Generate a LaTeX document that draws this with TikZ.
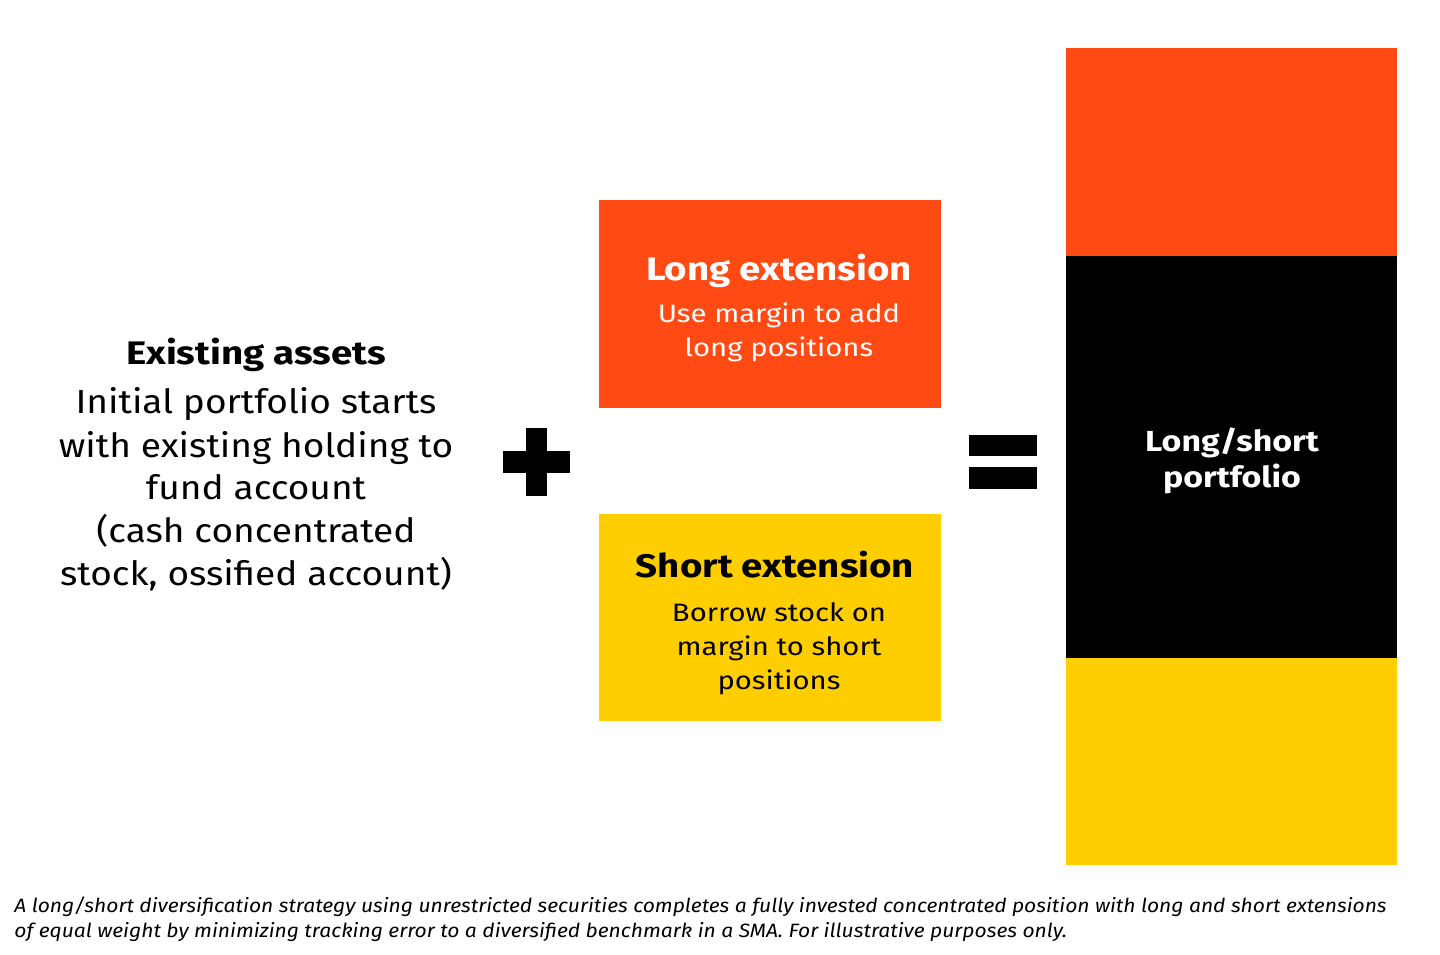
\documentclass[tikz,border=0pt]{standalone}
\usepackage{fontspec}
\setmainfont{Fira Sans}
\newfontfamily\hdfont{Fira Sans}[FakeStretch=1.18]
\newfontfamily\pffont{Fira Sans}[FakeStretch=1.17]
\newfontfamily\leftfont{Fira Sans}[FakeStretch=1.11]
\newfontfamily\boxfont{Fira Sans}[FakeStretch=1.16]
\newfontfamily\capfont{Fira Sans}[FakeStretch=1.09]
\definecolor{brorange}{HTML}{FF4A14}
\definecolor{bryellow}{HTML}{FFCE00}
\begin{document}
\begin{tikzpicture}[x=0.5pt,y=-0.5pt,
  hd/.style={font=\hdfont\fontsize{16.3}{18}\selectfont\bfseries, inner sep=0pt, anchor=base},
  pf/.style={font=\pffont\fontsize{14.5}{16}\selectfont\bfseries, inner sep=0pt, anchor=base, text=white},
  bodyL/.style={font=\leftfont\fontsize{16.7}{21.5}\selectfont, inner sep=0pt, anchor=base},
  bodyB/.style={font=\boxfont\fontsize{12.6}{17}\selectfont, inner sep=0pt, anchor=base},
  captxt/.style={font=\capfont\fontsize{9.65}{12}\selectfont\itshape, inner sep=0pt, anchor=base west}]
\useasboundingbox (0,0) rectangle (1440,954);
\fill[white] (0,0) rectangle (1440,954);
% boxes
\fill[brorange] (599,200) rectangle (941,408);
\fill[bryellow] (599,514) rectangle (941,721);
\fill[brorange] (1066,48) rectangle (1397,256);
\fill[black] (1066,256) rectangle (1397,658);
\fill[bryellow] (1066,658) rectangle (1397,865);
% plus
\fill[black] (525.7,428) rectangle (547.3,496);
\fill[black] (502.7,451.3) rectangle (570.3,472.7);
% equals
\fill[black] (969.3,435) rectangle (1037.3,456);
\fill[black] (969.3,467.3) rectangle (1037.3,489.3);
% left text
\node[hd] (eh) at (256,364) {Existing assets};
\node[bodyL] (e1) at (256,413) {Initial portfolio starts};
\node[bodyL] (e2) at (256,457) {with existing holding to};
\node[bodyL] (e3) at (256,499) {fund account};
\node[bodyL] (e4) at (256,542) {(cash concentrated};
\node[bodyL] (e5) at (256,585) {stock, ossified account)};
% long extension
\node[hd, text=white] (lh) at (779,280) {Long extension};
\node[bodyB, text=white] (l1) at (779,322) {Use margin to add};
\node[bodyB, text=white] (l2) at (779,356) {long positions};
% short extension
\node[hd] (sh) at (775,577) {Short extension};
\node[bodyB] (s1) at (779,621) {Borrow stock on};
\node[bodyB] (s2) at (779,655) {margin to short};
\node[bodyB] (s3) at (779,689) {positions};
% portfolio
\node[pf] (p1) at (1232,451) {Long/short};
\node[pf] (p2) at (1232,487) {portfolio};
% caption
\node[captxt] (c1) at (14,912) {A long/short diversification strategy using unrestricted securities completes a fully invested concentrated position with long and short extensions};
\node[captxt] (c2) at (14,937) {of equal weight by minimizing tracking error to a diversified benchmark in a SMA. For illustrative purposes only.};
\end{tikzpicture}
\end{document}
